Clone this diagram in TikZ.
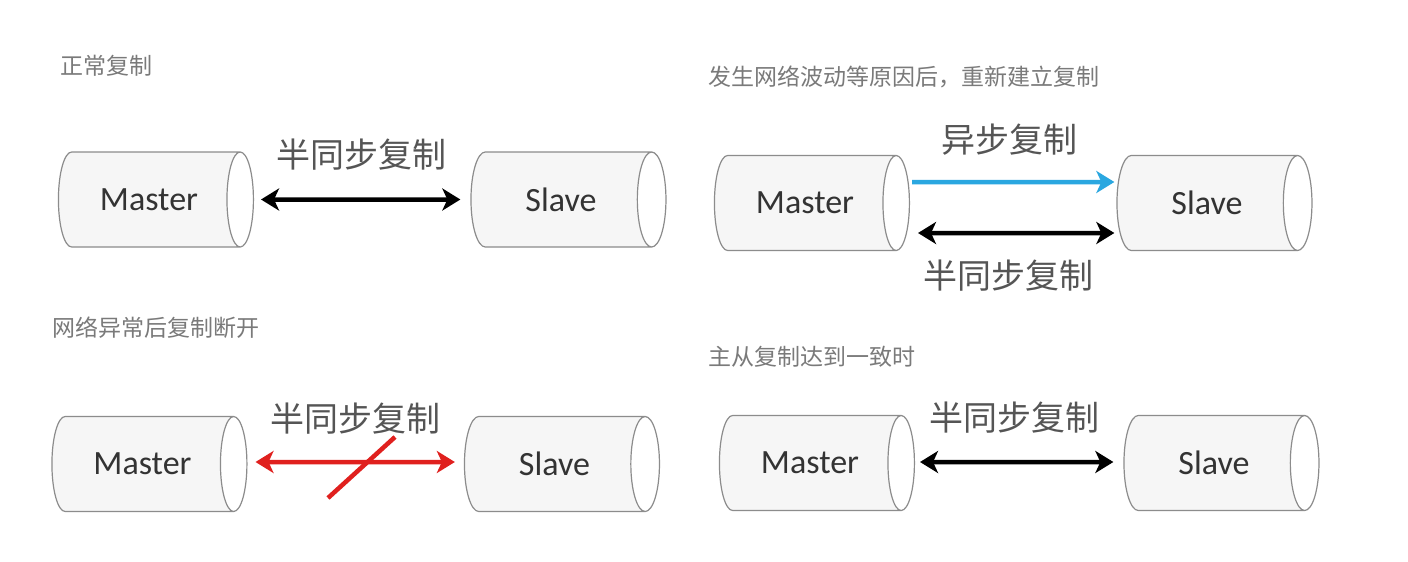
\documentclass[tikz,border=0pt]{standalone}
\usepackage{fontspec}
\setmainfont{Carlito}
\newfontfamily\cjk{Noto Sans CJK SC}
\usetikzlibrary{shapes.geometric,arrows.meta}
\definecolor{dbline}{HTML}{8C8C8C}
\definecolor{dbbody}{HTML}{F6F6F6}
\definecolor{dbtext}{HTML}{333333}
\definecolor{lbltext}{HTML}{555555}
\definecolor{ttltext}{HTML}{7A7A7A}
\definecolor{asyncblue}{HTML}{2AA7E0}
\definecolor{brokenred}{HTML}{E0201E}
\tikzset{
  db/.style={cylinder, draw=dbline, line width=1.2pt, aspect=1.2,
    minimum height=195pt, minimum width=95pt, inner sep=0pt,
    cylinder uses custom fill, cylinder body fill=dbbody,
    cylinder end fill=white, text=dbtext,
    font=\fontsize{34}{38}\selectfont},
  lbl/.style={text=lbltext, font=\cjk\fontsize{34}{38}\selectfont, inner sep=0pt},
  ttl/.style={anchor=west, text=ttltext, font=\cjk\fontsize{23}{26}\selectfont, inner sep=0pt},
  link/.style={line width=4.5pt, {Stealth[length=18pt,width=22pt,inset=5pt]}-{Stealth[length=18pt,width=22pt,inset=5pt]}},
  oneway/.style={line width=4.5pt, -{Stealth[length=18pt,width=22pt,inset=5pt]}}
}
\begin{document}
\begin{tikzpicture}[x=1pt,y=-1pt]
  \useasboundingbox[fill=white] (0,0) rectangle (1408,562);

  % normal replication
  \node[ttl] (t1) at (60,66) {正常复制};
  \node[db] (m1) at (149,199.5) {Master};
  \node[db] (s1) at (561,199.5) {Slave};
  \node[lbl] (l1) at (361,155) {半同步复制};
  \draw[link] (m1.east) -- (s1.west)
    [shorten <=7pt, shorten >=10pt];

  % network jitter, rebuild
  \node[ttl] (t2) at (708,77) {发生网络波动等原因后，重新建立复制};
  \node[db] (m2) at (805,203) {Master};
  \node[db] (s2) at (1207,203) {Slave};
  \node[lbl] (l2a) at (1009,140) {异步复制};
  \node[lbl] (l2b) at (1008,276) {半同步复制};
  \draw[oneway, asyncblue, shorten <=2pt, shorten >=2pt]
    ([yshift=21pt]m2.east) -- ([yshift=21pt]s2.west);
  \draw[link, shorten <=8pt, shorten >=2pt]
    ([yshift=-30pt]m2.east) -- ([yshift=-30pt]s2.west);

  % broken link
  \node[ttl] (t3) at (52,328) {网络异常后复制断开};
  \node[db] (m3) at (142.5,464) {Master};
  \node[db] (s3) at (554.5,464) {Slave};
  \node[lbl] (l3) at (355,419) {半同步复制};
  \draw[link, brokenred, shorten <=8pt, shorten >=9pt]
    ([yshift=2pt]m3.east) -- ([yshift=2pt]s3.west);
  \draw[brokenred, line width=4.5pt] (328,498) -- (395,437);

  % back in sync
  \node[ttl] (t4) at (708,357) {主从复制达到一致时};
  \node[db] (m4) at (810,463) {Master};
  \node[db] (s4) at (1214,463) {Slave};
  \node[lbl] (l4) at (1014,418) {半同步复制};
  \draw[link, shorten <=5pt, shorten >=10pt]
    ([yshift=1pt]m4.east) -- ([yshift=1pt]s4.west);
\end{tikzpicture}
\end{document}
